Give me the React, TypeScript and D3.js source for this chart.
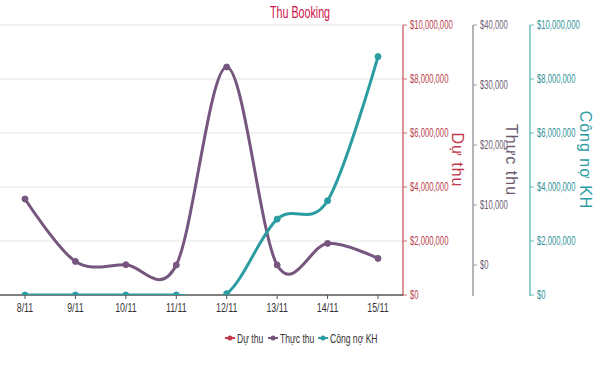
import React from 'react';
import * as d3 from 'd3';

const categories = ['8/11', '9/11', '10/11', '11/11', '12/11', '13/11', '14/11', '15/11'];
const duThu: (number | null)[] = [null, null, null, null, null, null, null, null];
const thucThu = [11000, 600, 50, 0, 33000, 0, 3600, 1100];
const congNo = [0, 0, 0, 0, 50000, 2810000, 3490000, 8830000];
const moneyTicks = [0, 2000000, 4000000, 6000000, 8000000, 10000000];
const thucTicks = [0, 10000, 20000, 30000, 40000];

const RED = '#c0394a';
const PURPLE = '#76567e';
const TEAL = '#2c9ca3';
const FONT = '"Liberation Sans", sans-serif';

const W = 600;
const H = 367;
const top = 25;
const bottom = 295;
const plotRight = 403;

const fmt = (v: number) => '$' + d3.format(',')(v);

// condensed text: the reference font is narrow, so squeeze horizontally
const NText = ({ x, y, anchor = 'start', size = 12, fill, sx = 0.64, children }: any) => (
  <text
    transform={`translate(${x},${y}) scale(${sx},1)`}
    textAnchor={anchor}
    dy="0.35em"
    fontSize={size}
    fill={fill}
  >
    {children}
  </text>
);

const App = () => {
  const x = d3.scalePoint<string>().domain(categories).range([25, 378]);
  const yMoney = d3.scaleLinear().domain([0, 10000000]).range([bottom, top]);
  const yThuc = d3.scaleLinear().domain([-5000, 40000]).range([bottom, top]);

  const mkLine = (scale: d3.ScaleLinear<number, number>) =>
    d3
      .line<number | null>()
      .defined(d => d !== null)
      .x((_, i) => x(categories[i]) as number)
      .y(d => scale(d as number))
      .curve(d3.curveCatmullRom.alpha(0));

  const series = [
    { name: 'Dự thu', data: duThu, scale: yMoney, color: RED },
    { name: 'Thực thu', data: thucThu, scale: yThuc, color: PURPLE },
    { name: 'Công nợ KH', data: congNo, scale: yMoney, color: TEAL },
  ];

  const axes = [
    { x: plotRight, ticks: moneyTicks, scale: yMoney, line: '#cf6c72', text: '#b8404a', title: 'Dự thu', tx: 458, tc: RED },
    { x: 473, ticks: thucTicks, scale: yThuc, line: '#a09aa2', text: '#6e5d74', title: 'Thực thu', tx: 512, tc: '#6c5a73' },
    { x: 530, ticks: moneyTicks, scale: yMoney, line: '#6fbcbf', text: '#2f9196', title: 'Công nợ KH', tx: 586, tc: TEAL },
  ];

  const legend = [
    { name: 'Dự thu', color: RED, x: 230 },
    { name: 'Thực thu', color: PURPLE, x: 273 },
    { name: 'Công nợ KH', color: TEAL, x: 323 },
  ];

  return (
    <svg width={W} height={H} style={{ position: 'absolute', left: 0, top: 0, background: '#fff' }} fontFamily={FONT}>
      <defs>
        <clipPath id="plot">
          <rect x={0} y={top - 10} width={plotRight} height={bottom - top + 10} />
        </clipPath>
      </defs>
      <NText x={300} y={12} anchor="middle" size={17} fill="#d0134a" sx={0.63}>Thu Booking</NText>

      {moneyTicks.slice(1).map(t => (
        <line key={t} x1={0} x2={plotRight} y1={yMoney(t)} y2={yMoney(t)} stroke="#e6e6e6" />
      ))}

      {axes.map(a => (
        <g key={a.title}>
          <line x1={a.x} x2={a.x} y1={top} y2={bottom + 1} stroke={a.line} strokeWidth={1.5} />
          {a.ticks.map(t => (
            <g key={t}>
              <line x1={a.x} x2={a.x + 4} y1={a.scale(t)} y2={a.scale(t)} stroke={a.line} />
              <NText x={a.x + 7} y={a.scale(t)} fill={a.text}>{fmt(t)}</NText>
            </g>
          ))}
          <text
            transform={`translate(${a.tx},160) rotate(90)`}
            textAnchor="middle"
            dy="0.35em"
            fontSize={16}
            letterSpacing={1}
            fill={a.tc}
          >
            {a.title}
          </text>
        </g>
      ))}

      <line x1={0} x2={plotRight} y1={bottom} y2={bottom} stroke="#555" strokeWidth={1.5} />
      {categories.map(c => (
        <g key={c}>
          <line x1={x(c)} x2={x(c)} y1={bottom} y2={bottom + 4} stroke="#555" />
          <NText x={x(c)} y={bottom + 12} anchor="middle" size={13} sx={0.68} fill="#333">{c}</NText>
        </g>
      ))}

      <g clipPath="url(#plot)">
        {series.map(s => (
          <g key={s.name}>
            <path d={mkLine(s.scale)(s.data) || ''} fill="none" stroke={s.color} strokeWidth={3} />
            {s.data.map((d, i) =>
              d === null ? null : (
                <circle key={i} cx={x(categories[i])} cy={s.scale(d)} r={3} fill={s.color} stroke={s.color} />
              )
            )}
          </g>
        ))}
      </g>

      {legend.map(l => (
        <g key={l.name}>
          <line x1={l.x - 5} x2={l.x + 5} y1={338} y2={338} stroke={l.color} strokeWidth={2} />
          <circle cx={l.x} cy={338} r={2.5} fill={l.color} />
          <NText x={l.x + 7} y={338} size={13} sx={0.66} fill="#333">{l.name}</NText>
        </g>
      ))}
    </svg>
  );
};

export default App;
